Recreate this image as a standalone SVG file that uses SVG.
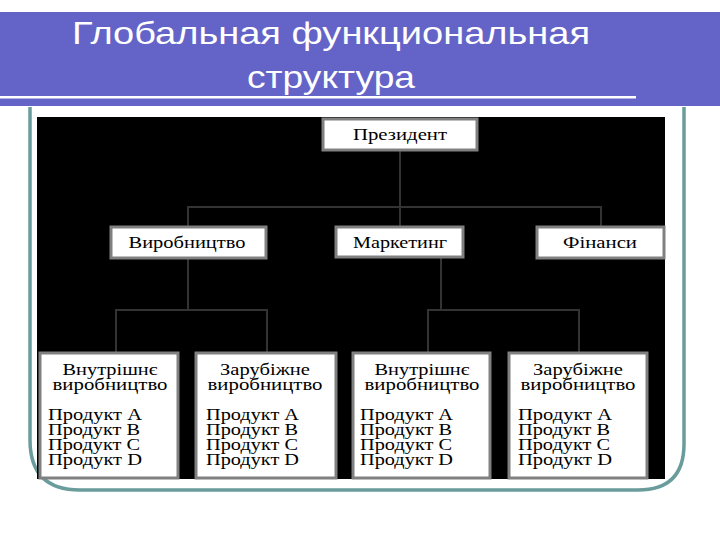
<svg xmlns="http://www.w3.org/2000/svg" width="720" height="540" viewBox="0 0 720 540">
<style>
.box{fill:#ffffff;stroke:#808080;stroke-width:3}
.t{font-family:"Liberation Serif","Times New Roman",serif;font-size:17.5px;fill:#000}
.c{text-anchor:middle}
.title{font-family:"Liberation Sans",Arial,sans-serif;font-size:32px;fill:#ffffff;text-anchor:middle}
.conn{fill:none;stroke:#333333;stroke-width:2}
</style>
<rect x="0" y="0" width="720" height="540" fill="#ffffff"/>
<g id="title">
<rect x="0" y="12" width="720" height="94" fill="#6464c8"/>
<text class="title" x="331" y="44" textLength="518" lengthAdjust="spacingAndGlyphs">Глобальная функциональная</text>
<text class="title" x="331" y="88" textLength="168" lengthAdjust="spacingAndGlyphs">структура</text>
<rect x="0" y="96" width="636" height="2.5" fill="#ffffff"/>
</g>
<path id="frame" d="M30,107 V440 Q30,490 80,490 H638 Q684,490 684,444 V107" fill="none" stroke="#6a9c9c" stroke-width="3.5"/>
<rect id="panel" x="37" y="117" width="628" height="362" fill="#000000"/>
<g id="connectors">
<path class="conn" d="M400,150 V207 M188,227 V207 H601 V227 M400,207 V227"/>
<path class="conn" d="M188,258 V310 M116,353 V310 H267 V353"/>
<path class="conn" d="M441,258 V310 M428,353 V310 H579 V353"/>
</g>
<g id="president">
<rect class="box" x="323" y="119" width="154" height="31"/>
<text class="t c" x="400" y="140" textLength="94" lengthAdjust="spacingAndGlyphs">Президент</text>
</g>
<g id="production">
<rect class="box" x="111" y="227" width="155" height="31"/>
<text class="t c" x="187" y="248" textLength="117" lengthAdjust="spacingAndGlyphs">Виробництво</text>
</g>
<g id="marketing">
<rect class="box" x="336" y="227" width="127" height="30"/>
<text class="t c" x="400" y="248" textLength="94" lengthAdjust="spacingAndGlyphs">Маркетинг</text>
</g>
<g id="finance">
<rect class="box" x="537" y="227" width="127" height="31"/>
<text class="t c" x="600" y="248" textLength="74" lengthAdjust="spacingAndGlyphs">Фінанси</text>
</g>
<g id="prod-domestic">
<rect class="box" x="40" y="353" width="138" height="125"/>
<text class="t c" x="110" y="375" textLength="95" lengthAdjust="spacingAndGlyphs">Внутрішнє</text>
<text class="t c" x="110" y="390" textLength="115" lengthAdjust="spacingAndGlyphs">виробництво</text>
<text class="t" x="48" y="420" textLength="94" lengthAdjust="spacingAndGlyphs">Продукт A</text>
<text class="t" x="48" y="435" textLength="92" lengthAdjust="spacingAndGlyphs">Продукт B</text>
<text class="t" x="48" y="450" textLength="92" lengthAdjust="spacingAndGlyphs">Продукт C</text>
<text class="t" x="48" y="465" textLength="94" lengthAdjust="spacingAndGlyphs">Продукт D</text>
</g>
<g id="prod-foreign">
<rect class="box" x="196" y="353" width="140" height="125"/>
<text class="t c" x="265" y="375" textLength="90" lengthAdjust="spacingAndGlyphs">Зарубіжне</text>
<text class="t c" x="265" y="390" textLength="115" lengthAdjust="spacingAndGlyphs">виробництво</text>
<text class="t" x="206" y="420" textLength="93" lengthAdjust="spacingAndGlyphs">Продукт A</text>
<text class="t" x="206" y="435" textLength="92" lengthAdjust="spacingAndGlyphs">Продукт B</text>
<text class="t" x="206" y="450" textLength="92" lengthAdjust="spacingAndGlyphs">Продукт C</text>
<text class="t" x="206" y="465" textLength="93" lengthAdjust="spacingAndGlyphs">Продукт D</text>
</g>
<g id="mkt-domestic">
<rect class="box" x="353" y="353" width="137" height="125"/>
<text class="t c" x="422" y="375" textLength="95" lengthAdjust="spacingAndGlyphs">Внутрішнє</text>
<text class="t c" x="422" y="390" textLength="115" lengthAdjust="spacingAndGlyphs">виробництво</text>
<text class="t" x="360" y="420" textLength="93" lengthAdjust="spacingAndGlyphs">Продукт A</text>
<text class="t" x="360" y="435" textLength="92" lengthAdjust="spacingAndGlyphs">Продукт B</text>
<text class="t" x="360" y="450" textLength="92" lengthAdjust="spacingAndGlyphs">Продукт C</text>
<text class="t" x="360" y="465" textLength="93" lengthAdjust="spacingAndGlyphs">Продукт D</text>
</g>
<g id="mkt-foreign">
<rect class="box" x="509" y="353" width="138" height="125"/>
<text class="t c" x="578" y="375" textLength="90" lengthAdjust="spacingAndGlyphs">Зарубіжне</text>
<text class="t c" x="578" y="390" textLength="115" lengthAdjust="spacingAndGlyphs">виробництво</text>
<text class="t" x="518" y="420" textLength="94" lengthAdjust="spacingAndGlyphs">Продукт A</text>
<text class="t" x="518" y="435" textLength="92" lengthAdjust="spacingAndGlyphs">Продукт B</text>
<text class="t" x="518" y="450" textLength="92" lengthAdjust="spacingAndGlyphs">Продукт C</text>
<text class="t" x="518" y="465" textLength="94" lengthAdjust="spacingAndGlyphs">Продукт D</text>
</g>
</svg>
